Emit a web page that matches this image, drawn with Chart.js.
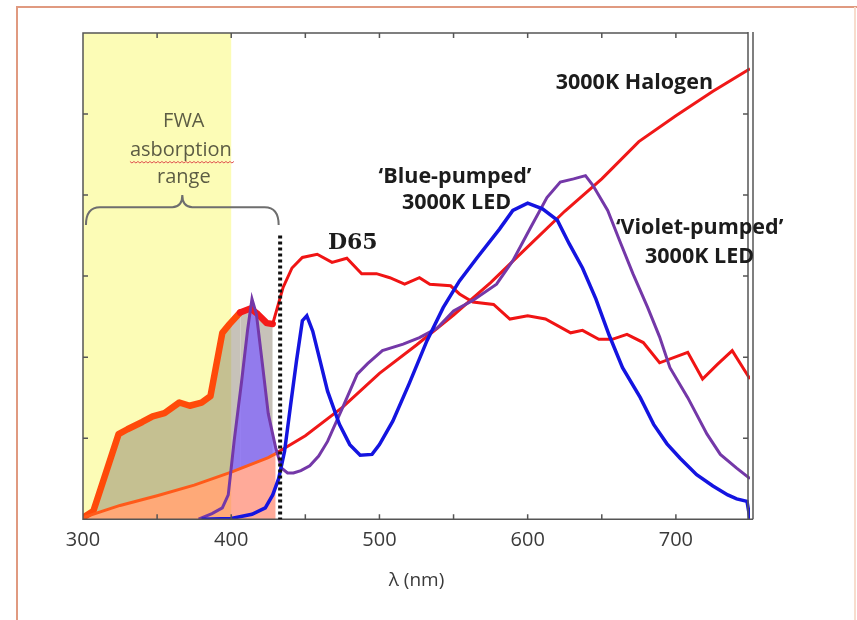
<!DOCTYPE html>
<html>
<head>
<meta charset="utf-8">
<script src="https://cdn.jsdelivr.net/npm/chart.js@4.4.1/dist/chart.umd.min.js"></script>
<style>
  html, body { margin: 0; padding: 0; background: #fff; }
  #wrap { width: 857px; height: 620px; }
</style>
</head>
<body>
<div id="wrap"><canvas id="spectraChart" width="857" height="620"></canvas></div>
<script>
// Axis ranges
const xMin = 300, xMax = 750;
const yMin = 0, yMax = 6;
const xTickLabels = [300, 400, 500, 600, 700];
const xTickMarks = [350, 400, 450, 500, 550, 600, 650, 700];
const yTickMarks = [1, 2, 3, 4, 5];

// FWA absorption band and cutoff (nm)
const fwaBand = [300, 400];
const fwaCutoff = 430;

// D65 daylight
const d65Nm = [300, 307, 324, 330, 340, 347, 355, 365, 372, 380, 386, 394, 399, 406, 413, 418, 424, 428,
  435, 441, 448, 458, 468, 478, 488, 498, 507, 517, 527, 534, 548, 554, 563, 577, 588, 600, 612, 629, 637,
  648, 657, 667, 678, 689, 708, 718, 728, 738, 750];
const d65Val = [0.02, 0.1, 1.05, 1.11, 1.2, 1.27, 1.31, 1.44, 1.4, 1.44, 1.52, 2.3, 2.41, 2.55, 2.6, 2.53, 2.42, 2.41,
  2.86, 3.1, 3.23, 3.27, 3.17, 3.22, 3.03, 3.03, 2.98, 2.9, 2.98, 2.9, 2.88, 2.78, 2.68, 2.65, 2.47, 2.51, 2.47, 2.3, 2.33,
  2.22, 2.22, 2.28, 2.18, 1.93, 2.06, 1.73, 1.91, 2.08, 1.73];

// 3000K halogen
const halogenNm = [300, 325, 350, 375, 400, 425, 430, 450, 475, 500, 525, 550, 575, 600, 625, 650, 675, 700, 725, 750];
const halogenVal = [0.02, 0.17, 0.29, 0.42, 0.58, 0.76, 0.81, 1.03, 1.38, 1.8, 2.15, 2.52, 2.92, 3.36, 3.8, 4.2, 4.66, 4.98, 5.28, 5.56];

// 'Blue-pumped' 3000K LED
const blueNm = [380, 400, 414, 423, 428, 432, 436, 440, 444, 448, 451, 455, 460, 465, 473, 480, 487, 495, 500, 509,
  520, 532, 543, 554, 566, 581, 590, 600, 610, 620, 628, 637, 646, 655, 664, 676, 685, 694, 703, 714, 725, 735, 741, 748, 750];
const blueVal = [0, 0.01, 0.06, 0.14, 0.3, 0.5, 0.84, 1.4, 1.95, 2.45, 2.51, 2.32, 1.95, 1.58, 1.17, 0.92, 0.79, 0.8, 0.92, 1.21,
  1.67, 2.2, 2.61, 2.94, 3.23, 3.58, 3.81, 3.9, 3.83, 3.69, 3.4, 3.1, 2.72, 2.27, 1.87, 1.5, 1.17, 0.93, 0.75, 0.55, 0.41, 0.3, 0.25, 0.22, 0];

// 'Violet-pumped' 3000K LED
const violetNm = [378, 387, 394, 398, 402, 407, 411, 414, 417, 421, 425, 430, 434, 438, 442, 447, 453, 459, 465, 475,
  485, 492, 502, 516, 527, 539, 550, 563, 579, 590, 602, 613, 622, 631, 639, 644, 654, 662, 671, 681, 689, 696, 708, 721, 730, 741, 750];
const violetVal = [0, 0.07, 0.14, 0.3, 0.97, 1.7, 2.33, 2.72, 2.53, 1.92, 1.3, 0.88, 0.63, 0.57, 0.57, 0.6, 0.66, 0.78, 0.96, 1.37,
  1.79, 1.92, 2.08, 2.16, 2.24, 2.36, 2.57, 2.7, 2.9, 3.19, 3.6, 3.97, 4.16, 4.2, 4.24, 4.12, 3.81, 3.44, 3.03, 2.61, 2.25, 1.87, 1.5, 1.05, 0.8, 0.63, 0.5];

// Text labels (placed in data coordinates)
const seriesLabels = [
  { text: "D65", x: 482, y: 3.4, font: "bold 22px 'DejaVu Serif'" },
  { text: "3000K Halogen", x: 672, y: 5.38 },
  { text: "\u2018Blue-pumped\u2019", x: 551, y: 4.22 },
  { text: "3000K LED", x: 552, y: 3.9 },
  { text: "\u2018Violet-pumped\u2019", x: 716, y: 3.59 },
  { text: "3000K LED", x: 716, y: 3.24 },
];
const fwaLabels = [
  { text: "FWA", x: 368, y: 4.91 },
  { text: "asborption", x: 366, y: 4.55 },
  { text: "range", x: 368, y: 4.22 },
];

const toPoints = (xs, ys) => xs.map((x, i) => ({ x: x, y: ys[i] }));
const uvOnly = (pts) => pts.filter((p) => p.x <= fwaCutoff);

const d65Points = toPoints(d65Nm, d65Val);
const halogenPoints = toPoints(halogenNm, halogenVal);
const violetPoints = toPoints(violetNm, violetVal);

// Frame, ticks, band, brace and labels
const decorations = {
  id: "decorations",
  beforeDraw(chart) {
    const { ctx, chartArea: a, scales } = chart;
    const x = scales.x;
    ctx.save();
    // outer border
    ctx.strokeStyle = "#e09a80";
    ctx.lineWidth = 2;
    ctx.beginPath();
    ctx.moveTo(17, 620);
    ctx.lineTo(17, 7);
    ctx.lineTo(857, 7);
    ctx.stroke();
    ctx.strokeStyle = "#f8dccd";
    ctx.beginPath();
    ctx.moveTo(855, 7);
    ctx.lineTo(855, 620);
    ctx.stroke();
    // FWA yellow band
    const x0 = x.getPixelForValue(fwaBand[0]);
    const x1 = x.getPixelForValue(fwaBand[1]);
    ctx.fillStyle = "#fcfcb6";
    ctx.fillRect(x0, a.top, x1 - x0, a.bottom - a.top);
    ctx.restore();
  },
  afterDatasetsDraw(chart) {
    const { ctx, chartArea: a, scales } = chart;
    const x = scales.x, y = scales.y;
    ctx.save();

    // plot frame
    ctx.strokeStyle = "#555";
    ctx.lineWidth = 1.5;
    ctx.beginPath();
    ctx.moveTo(a.right - 2, a.top);
    ctx.lineTo(a.left, a.top);
    ctx.lineTo(a.left, a.bottom);
    ctx.lineTo(a.right + 3, a.bottom);
    ctx.moveTo(a.right - 2, a.top - 1);
    ctx.lineTo(a.right - 2, a.bottom);
    ctx.moveTo(a.right + 3, a.top - 1);
    ctx.lineTo(a.right + 3, a.bottom);
    ctx.stroke();

    // inward ticks
    ctx.beginPath();
    xTickMarks.forEach((v) => {
      const px = x.getPixelForValue(v);
      ctx.moveTo(px, a.bottom);
      ctx.lineTo(px, a.bottom - 5);
      ctx.moveTo(px, a.top);
      ctx.lineTo(px, a.top + 5);
    });
    yTickMarks.forEach((v) => {
      const py = y.getPixelForValue(v);
      ctx.moveTo(a.left, py);
      ctx.lineTo(a.left + 5, py);
      ctx.moveTo(a.right - 2, py);
      ctx.lineTo(a.right - 7, py);
    });
    ctx.stroke();

    // dotted cutoff line
    const cx = x.getPixelForValue(fwaCutoff + 3);
    ctx.strokeStyle = "#111";
    ctx.lineWidth = 4;
    ctx.setLineDash([3, 3]);
    ctx.beginPath();
    ctx.moveTo(cx, y.getPixelForValue(3.5));
    ctx.lineTo(cx, a.bottom);
    ctx.stroke();
    ctx.setLineDash([]);

    // curly brace over the UV range
    const bl = x.getPixelForValue(302), br = x.getPixelForValue(432);
    const bm = x.getPixelForValue(367);
    const yEnd = y.getPixelForValue(3.63), yBar = y.getPixelForValue(3.85), yTip = y.getPixelForValue(4.0);
    ctx.strokeStyle = "#6e6e6e";
    ctx.lineWidth = 2;
    ctx.beginPath();
    ctx.moveTo(bl, yEnd);
    ctx.quadraticCurveTo(bl, yBar, bl + 14, yBar);
    ctx.lineTo(bm - 10, yBar);
    ctx.quadraticCurveTo(bm, yBar, bm, yTip);
    ctx.quadraticCurveTo(bm, yBar, bm + 10, yBar);
    ctx.lineTo(br - 14, yBar);
    ctx.quadraticCurveTo(br, yBar, br, yEnd);
    ctx.stroke();

    // FWA text
    ctx.textAlign = "center";
    ctx.textBaseline = "middle";
    ctx.fillStyle = "#5c5c44";
    ctx.font = "20px 'Open Sans'";
    fwaLabels.forEach((l) => ctx.fillText(l.text, x.getPixelForValue(l.x), y.getPixelForValue(l.y)));

    // spell-check squiggle under "asborption"
    const w = fwaLabels[1];
    const ww = ctx.measureText(w.text).width;
    const sx = x.getPixelForValue(w.x) - ww / 2, sy = y.getPixelForValue(w.y) + 11;
    ctx.strokeStyle = "#e05050";
    ctx.lineWidth = 1;
    ctx.beginPath();
    for (let i = 0; i <= ww + 4; i += 2) {
      const yy = sy + (i % 4 === 0 ? 0 : 1.5);
      if (i === 0) ctx.moveTo(sx + i, yy); else ctx.lineTo(sx + i, yy);
    }
    ctx.stroke();

    // series labels
    ctx.fillStyle = "#1c1c1c";
    seriesLabels.forEach((l) => {
      ctx.font = l.font || "bold 21.5px 'Open Sans'";
      ctx.fillText(l.text, x.getPixelForValue(l.x), y.getPixelForValue(l.y));
    });
    ctx.restore();
  },
};

const ctxSpectra = document.getElementById("spectraChart").getContext("2d");
new Chart(ctxSpectra, {
  type: "line",
  data: {
    datasets: [
      {
        label: "'Blue-pumped' 3000K LED",
        data: toPoints(blueNm, blueVal),
        borderColor: "#1414e0",
        borderWidth: 3.5,
      },
      {
        label: "'Violet-pumped' 3000K LED",
        data: violetPoints,
        borderColor: "#7438a8",
        borderWidth: 3,
      },
      {
        label: "3000K Halogen",
        data: halogenPoints,
        borderColor: "#f01818",
        borderWidth: 3,
        segment: {
          borderColor: (c) => (c.p0.parsed.x < fwaCutoff ? "#ff5a1a" : "#f01818"),
        },
      },
      {
        label: "D65",
        data: d65Points.filter((p) => p.x >= 428),
        borderColor: "#f01414",
        borderWidth: 3,
      },
      {
        label: "Violet LED (UV part)",
        data: uvOnly(violetPoints),
        borderWidth: 0,
        fill: { target: 5, above: "rgba(130,100,255,0.75)", below: "rgba(0,0,0,0)" },
      },
      {
        label: "Halogen (UV part)",
        data: uvOnly(halogenPoints),
        borderWidth: 0,
        backgroundColor: "rgba(255,100,70,0.55)",
        fill: "origin",
      },
      {
        label: "D65 (UV part)",
        data: d65Points.filter((p) => p.x <= 428),
        borderWidth: 6.5,
        borderColor: "#ff4500",
        borderJoinStyle: "round",
        borderCapStyle: "round",
        segment: {
          borderColor: (c) => (c.p0.parsed.x < 400 ? "#ff4a0a" : "#f51a1a"),
        },
        fill: { target: 5, above: "rgba(130,120,100,0.45)", below: "rgba(0,0,0,0)" },
      },
    ],
  },
  options: {
    responsive: false,
    animation: false,
    devicePixelRatio: 1,
    layout: { padding: { left: 83, top: 33, right: 107, bottom: 28 } },
    elements: { point: { radius: 0 }, line: { tension: 0 } },
    plugins: {
      legend: { display: false },
      tooltip: { enabled: false },
      filler: { drawTime: "beforeDatasetsDraw" },
    },
    scales: {
      x: {
        type: "linear",
        min: xMin,
        max: xMax,
        afterBuildTicks: (axis) => {
          axis.ticks = xTickLabels.map((v) => ({ value: v }));
        },
        grid: { display: false, drawTicks: false },
        border: { display: false },
        ticks: {
          padding: 9,
          color: "#3a3a3a",
          font: { family: "'Open Sans'", size: 20 },
          maxRotation: 0,
        },
        title: {
          display: true,
          text: "\u03bb (nm)",
          color: "#3a3a3a",
          font: { family: "'Open Sans'", size: 19 },
          padding: { top: 8, bottom: 0 },
        },
      },
      y: {
        display: false,
        min: yMin,
        max: yMax,
      },
    },
  },
  plugins: [decorations],
});
</script>
</body>
</html>
